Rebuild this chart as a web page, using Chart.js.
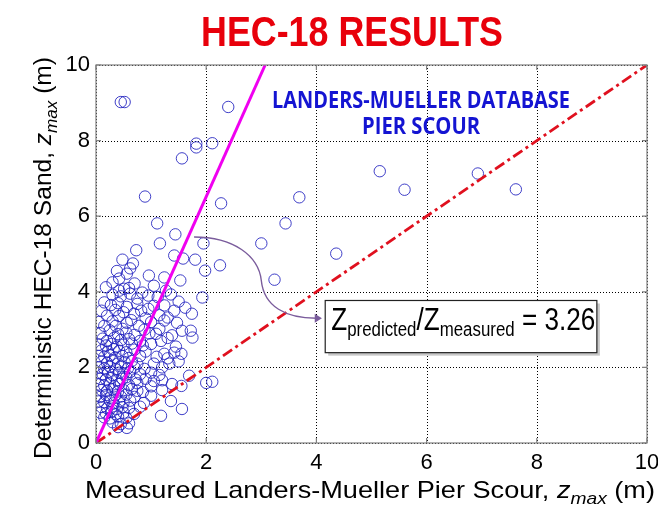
<!DOCTYPE html>
<html>
<head>
<meta charset="utf-8">
<script src="https://cdn.jsdelivr.net/npm/chart.js@4.4.1/dist/chart.umd.min.js"></script>
<style>
  body { margin: 0; background: #fff; }
  canvas { display: block; }
</style>
</head>
<body>
<canvas id="chart" width="658" height="510"></canvas>
<script>
// Scattered points (measured z_max, predicted z_max), metres
const measuredSparse = [0.45, 0.52, 2.40, 1.82, 1.82, 2.11, 1.56, 0.89, 2.27, 1.11,
  1.44, 1.16, 1.95, 3.00, 3.44, 0.73, 5.15, 5.60, 6.93, 7.62,
  3.69, 4.36, 1.80, 1.98, 2.25, 3.24, 1.93, 1.74, 1.72, 1.75,
  2.00, 2.11, 1.69,
  1.42, 1.58, 0.67, 0.56, 0.96, 1.24, 1.53, 0.42, 1.05, 0.51,
  0.60, 0.42, 0.84, 1.27, 0.30, 0.70, 0.18, 0.38, 0.62, 0.48];
const predictedSparse = [9.02, 9.02, 8.89, 7.92, 7.82, 7.93, 7.53, 6.52, 6.34, 5.81,
  5.52, 5.28, 5.28, 5.28, 5.81, 5.10, 7.19, 6.70, 7.13, 6.71,
  6.50, 5.01, 4.85, 4.56, 4.70, 4.32, 3.85, 3.42, 2.97, 2.79,
  1.59, 1.62, 1.78,
  4.96, 4.88, 4.75, 4.48, 4.43, 4.38, 4.30, 4.35, 4.16, 4.08,
  4.10, 4.03, 3.98, 4.03, 4.25, 4.22, 4.12, 4.55, 4.62, 4.85];

// Dense cluster near the origin
const measuredCluster = [
  0.30, 0.45, 0.62, 0.95, 1.12, 1.36, 0.75,
  0.15, 0.27, 0.40, 0.56, 0.75, 1.05, 1.24, 1.50,
  0.10, 0.35, 0.50, 0.82, 0.95, 1.42, 1.62,
  0.20, 0.42, 0.69, 0.90, 1.15, 1.30,
  0.05, 0.15, 0.30, 0.56, 0.64, 1.00, 1.24, 1.47,
  0.36, 0.48, 0.78, 0.88, 1.15, 1.56, 0.25,
  0.08, 0.40, 0.55, 0.70, 0.97, 1.09, 1.38,
  0.12, 0.20, 0.33, 0.45, 0.60, 0.80, 1.18, 1.30,
  0.05, 0.18, 0.28, 0.38, 0.50, 0.65, 0.85, 1.00, 1.45,
  0.10, 0.22, 0.32, 0.42, 0.55, 0.70, 0.90, 1.24, 1.42, 1.55,
  0.05, 0.15, 0.25, 0.35, 0.48, 0.60, 0.80, 1.10, 1.30,
  0.10, 0.20, 0.30, 0.40, 0.52, 0.65, 0.75, 1.05, 1.33, 1.50,
  0.05, 0.15, 0.25, 0.36, 0.45, 0.58, 0.70, 0.88, 1.20,
  0.02, 0.12, 0.22, 0.30, 0.42, 0.50, 0.62, 0.80, 1.00, 1.15,
  0.08, 0.18, 0.28, 0.38, 0.48, 0.55, 0.72, 0.90, 1.05, 1.20,
  0.05, 0.15, 0.25, 0.33, 0.42, 0.60, 0.75, 1.00, 1.38, 1.55,
  0.10, 0.20, 0.30, 0.40, 0.50, 0.65, 0.75, 0.85, 1.20,
  0.00, 0.08, 0.18, 0.26, 0.35, 0.45, 0.55, 0.70, 1.00,
  0.05, 0.15, 0.25, 0.32, 0.42, 0.50, 0.62, 0.87, 1.36,
  0.10, 0.20, 0.30, 0.38, 0.48, 0.60, 0.80, 1.56,
  0.08, 0.18, 0.28, 0.36, 0.50, 0.69,
  0.15, 0.25, 0.40, 0.55, 1.18,
  0.30, 0.45, 0.60, 0.56, 0.40];
const predictedCluster = [
  3.92, 3.88, 3.95, 3.90, 3.86, 3.93, 3.82,
  3.72, 3.65, 3.70, 3.60, 3.68, 3.63, 3.64, 3.74,
  3.50, 3.52, 3.46, 3.50, 3.55, 3.50, 3.58,
  3.37, 3.36, 3.42, 3.30, 3.38, 3.32,
  3.20, 3.10, 3.22, 3.18, 3.25, 3.20, 3.24, 3.18,
  3.10, 3.02, 3.10, 3.00, 3.02, 2.97, 2.98,
  2.90, 2.88, 2.92, 2.86, 2.90, 2.89, 2.85,
  2.76, 2.70, 2.78, 2.72, 2.75, 2.70, 2.70, 2.78,
  2.60, 2.58, 2.62, 2.55, 2.60, 2.63, 2.58, 2.62, 2.55,
  2.45, 2.42, 2.48, 2.44, 2.40, 2.47, 2.42, 2.36, 2.39, 2.36,
  2.30, 2.28, 2.32, 2.26, 2.30, 2.25, 2.30, 2.28, 2.24,
  2.15, 2.12, 2.18, 2.10, 2.14, 2.17, 2.10, 2.10, 2.10, 2.16,
  2.00, 1.97, 2.02, 1.95, 2.03, 1.98, 2.00, 1.96, 2.00,
  1.85, 1.82, 1.88, 1.80, 1.86, 1.83, 1.88, 1.82, 1.86, 1.80,
  1.70, 1.68, 1.72, 1.66, 1.70, 1.74, 1.68, 1.70, 1.64, 1.66,
  1.55, 1.52, 1.57, 1.50, 1.56, 1.53, 1.58, 1.50, 1.56, 1.51,
  1.40, 1.38, 1.42, 1.36, 1.40, 1.43, 1.38, 1.35, 1.40,
  1.25, 1.22, 1.27, 1.20, 1.26, 1.23, 1.28, 1.22, 1.25,
  1.10, 1.08, 1.12, 1.05, 1.10, 1.07, 1.12, 1.06, 1.11,
  0.95, 0.92, 0.97, 0.90, 0.95, 0.93, 0.96, 0.90,
  0.80, 0.78, 0.82, 0.76, 0.80, 0.77,
  0.68, 0.65, 0.70, 0.66, 0.72,
  0.55, 0.50, 0.52, 0.40, 0.42];

// Reference lines
const equalityX = [0, 10];
const equalityY = [0, 10];
const ratioX = [0, 3.07];   // predicted / measured = 3.26
const ratioY = [0, 10];

const axisTicks = [0, 2, 4, 6, 8, 10];

const FONT = '"Liberation Sans", Arial, sans-serif';

const measured = measuredSparse.concat(measuredCluster);
const predicted = predictedSparse.concat(predictedCluster);
const toPoints = (xs, ys) => xs.map((x, i) => ({ x: x, y: ys[i] }));

// text whose width and cap height are both fixed (the slide stretched it)
function fittedText(ctx, text, cx, baseY, font, capH, width, color) {
  const size = capH / 0.72;
  ctx.save();
  ctx.font = font.replace('{s}', size + 'px');
  const w = ctx.measureText(text).width;
  ctx.translate(cx, baseY);
  ctx.scale(width / w, 1);
  ctx.fillStyle = color;
  ctx.textAlign = 'center';
  ctx.textBaseline = 'alphabetic';
  ctx.fillText(text, 0, 0);
  ctx.restore();
}

// runs of text with italic / subscript parts, left to right
function richWidth(ctx, parts) {
  let w = 0;
  parts.forEach(p => {
    ctx.font = (p.italic ? 'italic ' : '') + p.size + 'px ' + FONT;
    w += ctx.measureText(p.t).width;
  });
  return w;
}
function drawRich(ctx, parts, x, y) {
  parts.forEach(p => {
    ctx.font = (p.italic ? 'italic ' : '') + p.size + 'px ' + FONT;
    ctx.fillText(p.t, x, y + (p.dy || 0));
    x += ctx.measureText(p.t).width;
  });
}
// rich text centred on (cx, y), squeezed/stretched to a given width
function drawRichFitted(ctx, parts, cx, y, width) {
  const w = richWidth(ctx, parts);
  ctx.save();
  ctx.translate(cx - width / 2, y);
  ctx.scale(width / w, 1);
  drawRich(ctx, parts, 0, 0);
  ctx.restore();
}

// dotted MATLAB-style grid, under the markers
const dottedGrid = {
  id: 'dottedGrid',
  beforeDatasetsDraw(chart) {
    const { ctx, chartArea: a, scales } = chart;
    ctx.save();
    ctx.strokeStyle = '#000';
    ctx.lineWidth = 1;
    ctx.setLineDash([1, 2]);
    axisTicks.forEach(v => {
      const x = Math.round(scales.x.getPixelForValue(v)) + 0.5;
      ctx.beginPath(); ctx.moveTo(x, a.top); ctx.lineTo(x, a.bottom); ctx.stroke();
      const y = Math.round(scales.y.getPixelForValue(v)) + 0.5;
      ctx.beginPath(); ctx.moveTo(a.left, y); ctx.lineTo(a.right, y); ctx.stroke();
    });
    ctx.restore();
  }
};

const decorations = {
  id: 'decorations',
  afterDatasetsDraw(chart) {
    const { ctx, chartArea: a, scales } = chart;
    const px = v => scales.x.getPixelForValue(v);
    const py = v => scales.y.getPixelForValue(v);

    // plot frame with small inward ticks
    ctx.save();
    ctx.strokeStyle = '#808080';
    ctx.lineWidth = 1.2;
    ctx.strokeRect(a.left, a.top, a.right - a.left, a.bottom - a.top);
    ctx.beginPath();
    axisTicks.forEach(v => {
      const x = px(v), y = py(v);
      ctx.moveTo(x, a.bottom); ctx.lineTo(x, a.bottom - 5);
      ctx.moveTo(x, a.top); ctx.lineTo(x, a.top + 5);
      ctx.moveTo(a.left, y); ctx.lineTo(a.left + 5, y);
      ctx.moveTo(a.right, y); ctx.lineTo(a.right - 5, y);
    });
    ctx.stroke();

    // title
    fittedText(ctx, 'HEC-18 RESULTS', 352, 46, 'bold {s} ' + FONT, 31, 302, '#e8000b');

    // blue annotation
    fittedText(ctx, 'LANDERS-MUELLER DATABASE', 421, 108, 'bold {s} "Open Sans", sans-serif', 17, 298, '#1414d2');
    fittedText(ctx, 'PIER SCOUR', 421, 134, 'bold {s} "Open Sans", sans-serif', 17, 118, '#1414d2');

    // curved arrow
    ctx.strokeStyle = '#7a5c9c';
    ctx.lineWidth = 1.4;
    ctx.beginPath();
    ctx.moveTo(px(1.78), py(5.45));
    ctx.bezierCurveTo(px(2.5), py(5.45), px(2.95), py(4.95), px(3.0), py(4.3));
    ctx.bezierCurveTo(px(3.05), py(3.6), px(3.45), py(3.3), px(4.0), py(3.3));
    ctx.stroke();
    ctx.fillStyle = '#7a5c9c';
    ctx.beginPath();
    ctx.moveTo(px(4.1), py(3.3));
    ctx.lineTo(px(3.97), py(3.42));
    ctx.lineTo(px(3.97), py(3.18));
    ctx.closePath();
    ctx.fill();

    // ratio box
    const bx = px(4.16), by = py(3.77), bw = px(9.09) - bx, bh = py(2.39) - by;
    ctx.fillStyle = '#c8c8c8';
    ctx.fillRect(bx + 3, by + 3, bw, bh);
    ctx.fillStyle = '#fff';
    ctx.fillRect(bx, by, bw, bh);
    ctx.strokeStyle = '#222';
    ctx.lineWidth = 1.2;
    ctx.strokeRect(bx, by, bw, bh);

    ctx.fillStyle = '#000';
    ctx.textBaseline = 'alphabetic';
    const ratioParts = [
      { t: 'Z', size: 31 }, { t: 'predicted', size: 20, dy: 6 },
      { t: '/Z', size: 31 }, { t: 'measured', size: 20, dy: 6 },
      { t: ' = 3.26', size: 31 }];
    drawRichFitted(ctx, ratioParts, bx + 6 + 132, by + 30, 264);

    // axis titles
    const xParts = [
      { t: 'Measured Landers-Mueller Pier Scour, ', size: 24 },
      { t: 'z', size: 24, italic: true }, { t: 'max', size: 17, italic: true, dy: 6 },
      { t: ' (m)', size: 24 }];
    drawRichFitted(ctx, xParts, 370, 498, 570);

    const yParts = [
      { t: 'Deterministic HEC-18 Sand, ', size: 23 },
      { t: 'z', size: 23, italic: true }, { t: 'max', size: 16, italic: true, dy: 6 },
      { t: ' (m)', size: 23 }];
    ctx.translate(51, 258);
    ctx.rotate(-Math.PI / 2);
    drawRichFitted(ctx, yParts, 0, 0, 402);
    ctx.restore();
  }
};

const tickFont = { family: FONT, size: 22 };

new Chart(document.getElementById('chart'), {
  data: {
    datasets: [
      {
        type: 'scatter',
        data: toPoints(measured, predicted),
        pointStyle: 'circle',
        pointRadius: 5.7,
        pointBorderWidth: 1,
        pointBorderColor: 'rgba(30, 30, 190, 0.85)',
        pointBackgroundColor: 'rgba(0, 0, 0, 0)',
        order: 3
      },
      {
        type: 'line',
        data: toPoints(equalityX, equalityY),
        borderColor: '#e0101e',
        borderWidth: 2.8,
        borderDash: [11, 4, 3, 4],
        pointRadius: 0,
        order: 2
      },
      {
        type: 'line',
        data: toPoints(ratioX, ratioY),
        borderColor: '#f000f0',
        borderWidth: 3,
        pointRadius: 0,
        order: 1
      }
    ]
  },
  options: {
    responsive: false,
    animation: false,
    layout: { padding: { top: 65, right: 11, left: 0, bottom: 0 } },
    plugins: {
      legend: { display: false },
      title: { display: false },
      tooltip: { enabled: false }
    },
    scales: {
      x: {
        type: 'linear',
        min: 0, max: 10,
        afterFit: s => { s.height = 67; s.paddingLeft = 0; s.paddingRight = 0; },
        afterBuildTicks: s => { s.ticks = axisTicks.map(v => ({ value: v })); },
        ticks: { font: tickFont, color: '#000', padding: 7 },
        grid: { display: false, drawTicks: false },
        border: { display: false }
      },
      y: {
        type: 'linear',
        min: 0, max: 10,
        afterFit: s => { s.width = 96; s.paddingTop = 0; s.paddingBottom = 0; },
        afterBuildTicks: s => { s.ticks = axisTicks.map(v => ({ value: v })); },
        ticks: { font: tickFont, color: '#000', padding: 6 },
        grid: { display: false, drawTicks: false },
        border: { display: false }
      }
    }
  },
  plugins: [dottedGrid, decorations]
});
</script>
</body>
</html>
